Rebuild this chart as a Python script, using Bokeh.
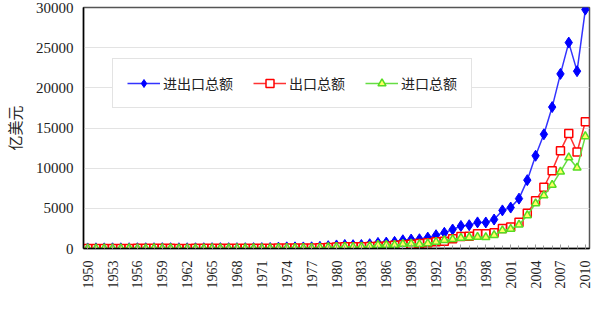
import math
from bokeh.plotting import figure
from bokeh.models import FixedTicker, Legend, LegendItem, Range1d
from bokeh.embed import file_html
from bokeh.resources import INLINE

years = list(range(1950, 2011))
total = [11.3, 19.6, 19.4, 23.7, 24.4, 31.4, 32.1, 31.0, 38.7, 43.8,
         38.1, 29.4, 26.6, 29.2, 34.7, 42.5, 46.2, 41.6, 40.5, 40.3,
         45.9, 48.4, 63.0, 109.8, 145.7, 147.5, 134.3, 148.0, 206.4, 293.3,
         381.4, 440.3, 416.1, 436.2, 535.5, 696.0, 738.5, 826.5, 1027.9, 1116.8,
         1154.4, 1357.0, 1655.3, 1957.0, 2366.2, 2808.6, 2898.8, 3251.6, 3239.5, 3606.3,
         4742.9, 5096.5, 6207.7, 8509.9, 11545.5, 14219.1, 17604.0, 21737.3, 25632.6, 22075.4,
         29740.0]
exports = [5.5, 7.6, 8.2, 10.2, 11.5, 14.1, 16.5, 16.0, 19.8, 22.6,
           18.6, 14.9, 14.9, 16.5, 19.2, 22.3, 23.7, 21.4, 21.0, 22.0,
           22.6, 26.4, 34.4, 58.2, 69.5, 72.6, 68.5, 75.9, 97.5, 136.6,
           181.2, 220.1, 223.2, 222.3, 261.4, 273.5, 309.4, 394.4, 475.2, 525.4,
           620.9, 718.4, 849.4, 917.4, 1210.1, 1487.8, 1510.5, 1827.9, 1837.1, 1949.3,
           2492.0, 2661.0, 3256.0, 4382.3, 5933.3, 7619.5, 9689.4, 12177.8, 14306.9, 12016.1,
           15777.5]
imports = [5.8, 12.0, 11.2, 13.5, 12.9, 17.3, 15.6, 15.0, 18.9, 21.2,
           19.5, 14.5, 11.7, 12.7, 15.5, 20.2, 22.5, 20.2, 19.5, 18.3,
           23.3, 22.0, 28.6, 51.6, 76.2, 74.9, 65.8, 72.1, 108.9, 156.7,
           200.2, 220.2, 192.9, 213.9, 274.1, 422.5, 429.1, 432.1, 552.7, 591.4,
           533.5, 637.9, 805.9, 1039.6, 1156.1, 1320.8, 1388.3, 1423.7, 1402.4, 1657.0,
           2250.9, 2435.5, 2951.7, 4127.6, 5612.3, 6599.5, 7914.6, 9559.5, 11325.6, 10059.2,
           13962.4]
series_names = ["进出口总额", "出口总额", "进口总额"]
y_label = "亿美元"

p = figure(width=597, height=293, output_backend="svg", toolbar_location=None,
           x_range=Range1d(1949.5, 2010.5), y_range=Range1d(0, 30000),
           min_border_left=80, min_border_right=8, min_border_top=7, min_border_bottom=45)
p.background_fill_color = "white"
p.border_fill_color = "white"
p.outline_line_color = "#555555"
p.outline_line_width = 1.5

# series
l1 = p.line(years, total, line_color="#3333ff", line_width=1.5)
m1 = p.scatter(years, total, marker="diamond", size=11, fill_color="#0000ff", line_color="#0000ff")
l2 = p.line(years, exports, line_color="#ff3333", line_width=1.5)
m2 = p.scatter(years, exports, marker="square", size=8, fill_color="white", line_color="#ff0000", line_width=1.5)
l3 = p.line(years, imports, line_color="#66dd44", line_width=1.5)
m3 = p.scatter(years, imports, marker="triangle", size=8, fill_color="#ffff66", line_color="#55dd22", line_width=1.5)

# axes
p.xgrid.grid_line_color = None
p.ygrid.grid_line_color = "#e3e3e3"
p.ygrid.ticker = FixedTicker(ticks=list(range(0, 30001, 5000)))

p.yaxis.ticker = FixedTicker(ticks=list(range(0, 30001, 5000)))
p.yaxis.major_tick_out = 0
p.yaxis.major_tick_in = 0
p.yaxis.minor_tick_out = 0
p.yaxis.minor_tick_in = 0
p.yaxis.major_label_standoff = 10
p.yaxis.major_label_text_font = "Liberation Serif"
p.yaxis.major_label_text_font_size = "15px"
p.yaxis.major_label_text_color = "#222222"
p.yaxis.axis_line_color = "black"
p.yaxis.axis_line_width = 1.5
p.yaxis.axis_label = y_label
p.yaxis.axis_label_text_font = "Noto Sans CJK SC"
p.yaxis.axis_label_text_font_size = "15px"
p.yaxis.axis_label_text_font_style = "normal"
p.yaxis.axis_label_text_color = "#222222"
p.yaxis.axis_label_standoff = 8

p.xaxis.ticker = FixedTicker(ticks=list(range(1950, 2011, 3)), minor_ticks=years)
p.xaxis.major_tick_out = 0
p.xaxis.major_tick_in = 4
p.xaxis.minor_tick_out = 0
p.xaxis.minor_tick_in = 3
p.xaxis.major_tick_line_color = "#999999"
p.xaxis.minor_tick_line_color = "#999999"
p.xaxis.major_label_orientation = math.pi / 2
p.xaxis.major_label_standoff = 12
p.xaxis.major_label_text_font = "Liberation Serif"
p.xaxis.major_label_text_font_size = "14px"
p.xaxis.major_label_text_color = "#222222"
p.xaxis.axis_line_color = "black"
p.xaxis.axis_line_width = 1.5

legend = Legend(items=[LegendItem(label=series_names[0], renderers=[l1, m1]),
                       LegendItem(label=series_names[1], renderers=[l2, m2]),
                       LegendItem(label=series_names[2], renderers=[l3, m3])],
                orientation="horizontal", location=(29, 140))
legend.label_text_font = "Noto Sans CJK SC"
legend.label_text_font_size = "14px"
legend.label_text_color = "#222222"
legend.glyph_width = 33
legend.label_standoff = 3
legend.spacing = 20
legend.padding = 14
legend.margin = 0
legend.border_line_color = "#c8c8c8"
legend.border_line_width = 1.5
legend.background_fill_color = "white"
legend.background_fill_alpha = 1.0
p.add_layout(legend, "center")

open("out.html", "w").write(file_html(p, INLINE))
